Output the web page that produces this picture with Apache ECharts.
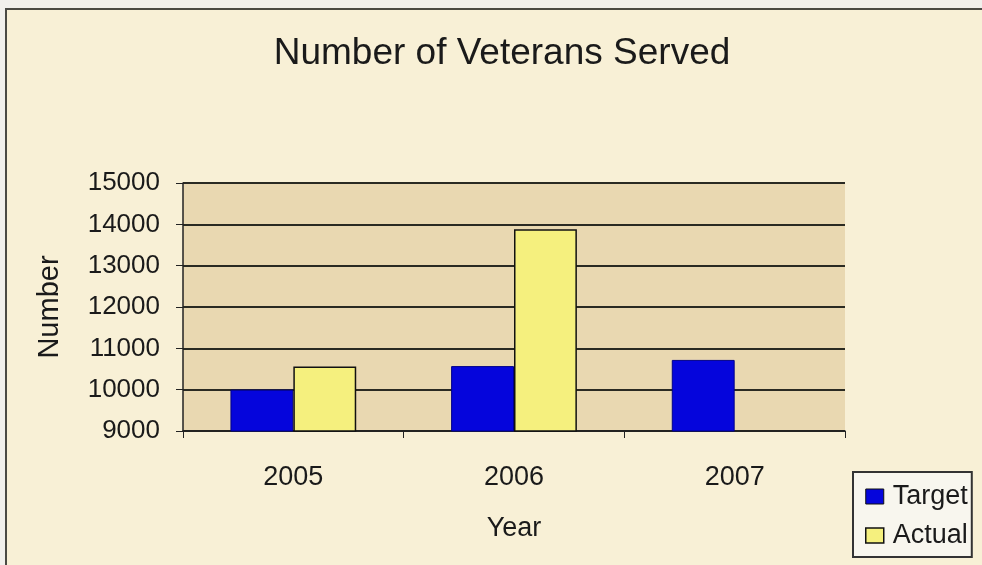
<!DOCTYPE html>
<html>
<head>
<meta charset="utf-8">
<script src="https://cdn.jsdelivr.net/npm/echarts@6/dist/echarts.min.js"></script>
<style>
html,body{margin:0;padding:0;background:#f1f0ec;}
#chart{width:982px;height:565px;}
</style>
</head>
<body>
<div id="chart"></div>
<script>
const categories = ['2005', '2006', '2007'];
const targetValues = [10000, 10570, 10720];
const actualValues = [10560, 13880, null];
const yTicks = {min: 9000, max: 15000, interval: 1000};

const chart = echarts.init(document.getElementById('chart'), null, {renderer: 'canvas'});
const font = '"Liberation Sans", Arial, sans-serif';
chart.setOption({
  backgroundColor: '#f1f0ec',
  animation: false,
  graphic: [
    {type: 'rect', shape: {x: 6, y: 9, width: 990, height: 570},
     style: {fill: '#f8f0d6', stroke: '#4a4a44', lineWidth: 2}, z: -10},
    {type: 'rect', shape: {x: 183, y: 183, width: 662, height: 248},
     style: {fill: '#e9d8b1'}, z: -5}
  ],
  title: {
    text: 'Number of Veterans Served', left: 497, top: 30, textAlign: 'center',
    textStyle: {fontFamily: font, fontSize: 37, fontWeight: 'normal', color: '#1a1a1a'}
  },
  legend: {
    orient: 'vertical', left: 853, top: 472, itemWidth: 18, itemHeight: 15, itemGap: 12,
    icon: 'rect',
    padding: [11, 4, 8, 12],
    borderColor: '#333', borderWidth: 2, backgroundColor: '#f8f6ee',
    textStyle: {fontFamily: font, fontSize: 27, color: '#1a1a1a', padding: [0, 0, 0, 4]},
    data: [
      {name: 'Target', itemStyle: {color: '#0505dc', borderColor: '#111', borderWidth: 1}},
      {name: 'Actual', itemStyle: {color: '#f5f07e', borderColor: '#111', borderWidth: 1.5}}
    ]
  },
  grid: {left: 183, right: 137, top: 183, bottom: 134},
  xAxis: {
    type: 'category', data: categories, name: 'Year', nameLocation: 'middle', nameGap: 84,
    nameTextStyle: {fontFamily: font, fontSize: 27, color: '#1a1a1a'},
    axisLine: {lineStyle: {color: '#222', width: 1.5}},
    axisTick: {show: true, length: 7, lineStyle: {color: '#222'}},
    axisLabel: {fontFamily: font, fontSize: 27, color: '#1a1a1a', margin: 33}
  },
  yAxis: {
    type: 'value', min: yTicks.min, max: yTicks.max, interval: yTicks.interval,
    name: 'Number', nameLocation: 'middle', nameGap: 119, nameRotate: 90,
    nameTextStyle: {fontFamily: font, fontSize: 29, color: '#1a1a1a'},
    axisLine: {show: true, lineStyle: {color: '#222', width: 1.5}},
    axisTick: {show: true, length: 7, inside: false, lineStyle: {color: '#222'}},
    axisLabel: {fontFamily: font, fontSize: 26, color: '#1a1a1a', margin: 23,
                formatter: v => String(v)},
    splitLine: {lineStyle: {color: '#2a2a22', width: 2}}
  },
  series: [
    {name: 'Target', type: 'bar', data: targetValues, barGap: '0%', barCategoryGap: '43%',
     itemStyle: {color: '#0505dc', borderColor: '#00008a', borderWidth: 1}},
    {name: 'Actual', type: 'bar', data: actualValues,
     itemStyle: {color: '#f5f07e', borderColor: '#111', borderWidth: 1.5}}
  ]
});
</script>
</body>
</html>
